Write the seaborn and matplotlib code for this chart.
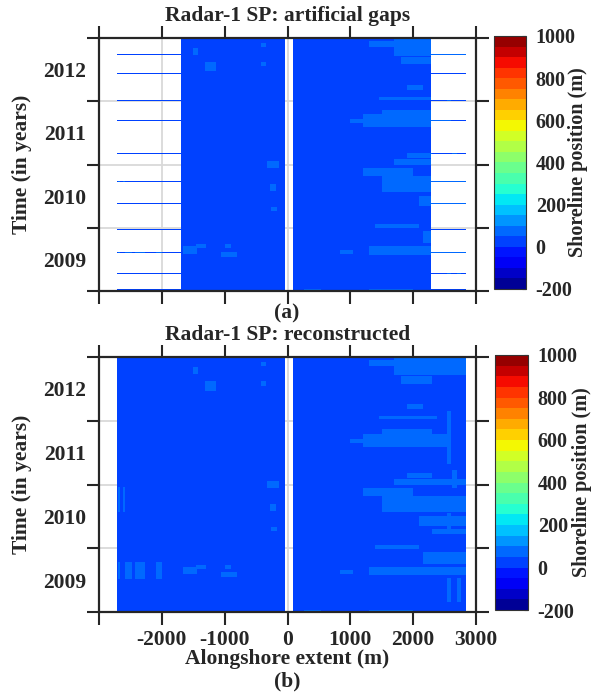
import numpy as np
import pandas as pd
import matplotlib
matplotlib.use("Agg")
import matplotlib.pyplot as plt
import seaborn as sns
from matplotlib.colors import ListedColormap

# ---------------- data ----------------
# alongshore grid (m) and time grid (decimal years)
x_start, x_stop, x_step = -3000, 3000, 20
t_top, t_bottom, n_rows = 2012.5, 2008.5, 250

# extent of the shoreline data
data_x_min, data_x_max = -2720, 2840
gap_x_min, gap_x_max = -40, 80          # blank column near 0 m
obs_x_min, obs_x_max = -1700, 2280      # region kept in the gapped series

base_value = 25      # dominant shoreline position (m)
patch_value = 75     # lighter patches (m)

# lighter patches: alongshore start/end (m), time start/end (years)
patch_x0 = [1700, 1300, 1800, 1900, 1470, 1200, 1500, 2540, 1700, 1900, 2620,
            1500, 1200, 2100, 2300, 2540, 2160, 1300, 840, 2540, 2700, 260, 1300,
            -1660, -1450, -1050, -1000, -1310, -1500, -420, -420, -310, -280, -260,
            -2700, -2620, -2700, -2570, -2410, -2090, 1000, 1400]
patch_x1 = [2840, 1700, 2300, 2160, 2380, 2540, 2300, 2600, 2840, 2300, 2700,
            2840, 2000, 2840, 2840, 2600, 2840, 2840, 1040, 2600, 2760, 530, 2000,
            -1450, -1310, -800, -900, -1150, -1420, -340, -340, -150, -180, -160,
            -2660, -2580, -2660, -2490, -2270, -2010, 1300, 2100]
patch_t0 = [2012.22, 2012.35, 2012.08, 2011.68, 2011.52, 2011.10, 2011.30, 2010.82, 2010.50, 2010.60, 2010.45,
            2010.07, 2010.33, 2009.85, 2009.72, 2009.75, 2009.25, 2009.08, 2009.10, 2008.66, 2008.66, 2008.50, 2008.50,
            2009.10, 2009.18, 2009.05, 2009.18, 2011.97, 2012.23, 2012.35, 2012.05, 2010.46, 2010.08, 2009.77,
            2010.07, 2010.07, 2009.02, 2009.02, 2009.02, 2009.02, 2011.16, 2009.50]
patch_t1 = [2012.50, 2012.45, 2012.20, 2011.76, 2011.57, 2011.30, 2011.37, 2011.65, 2010.58, 2010.68, 2010.72,
            2010.33, 2010.45, 2010.00, 2009.80, 2010.05, 2009.44, 2009.20, 2009.16, 2009.02, 2009.02, 2008.53, 2008.53,
            2009.20, 2009.24, 2009.12, 2009.24, 2012.12, 2012.34, 2012.42, 2012.12, 2010.55, 2010.20, 2009.83,
            2010.46, 2010.46, 2009.28, 2009.28, 2009.28, 2009.28, 2011.22, 2009.55]

# times at which the full alongshore extent was kept in the gapped series
hatch_years = [2012.231, 2011.931, 2011.520, 2011.199, 2010.666, 2010.239,
               2009.887, 2009.469, 2009.112, 2008.773, 2008.527]

x_tick_values = [-3000, -2000, -1000, 0, 1000, 2000, 3000]
x_tick_labels = ['', '-2000', '-1000', '0', '1000', '2000', '3000']
year_bounds = [2012.5, 2011.5, 2010.5, 2009.5, 2008.5]
year_labels = [2012, 2011, 2010, 2009]
cbar_ticks = [-200, 0, 200, 400, 600, 800, 1000]
c_min, c_max, c_step = -200, 1000, 50

# ---------------- build the fields ----------------
x_left = np.arange(x_start, x_stop, x_step)
x_mid = x_left + x_step / 2
dt = (t_top - t_bottom) / n_rows
t_mid = t_top - (np.arange(n_rows) + 0.5) * dt

in_extent = (x_mid > data_x_min) & (x_mid < data_x_max) & ~((x_mid > gap_x_min) & (x_mid < gap_x_max))
recon = np.full((n_rows, x_mid.size), np.nan)
recon[:, in_extent] = base_value
for x0, x1, t0, t1 in zip(patch_x0, patch_x1, patch_t0, patch_t1):
    rows = (t_mid >= t0) & (t_mid <= t1)
    cols = (x_mid >= x0) & (x_mid <= x1) & in_extent
    recon[np.ix_(rows, cols)] = patch_value

keep = np.zeros_like(recon, dtype=bool)
keep[:, (x_mid > obs_x_min) & (x_mid < obs_x_max)] = True
for yr in hatch_years:
    keep[int(np.argmin(np.abs(t_mid - yr))), :] = True
gapped = np.where(keep, recon, np.nan)

df_gap = pd.DataFrame(gapped, index=np.round(t_mid, 3), columns=x_mid)
df_rec = pd.DataFrame(recon, index=np.round(t_mid, 3), columns=x_mid)

levels = np.arange(c_min, c_max + 1, c_step)
mids = (levels[:-1] + levels[1:]) / 2
cmap = ListedColormap(plt.get_cmap('jet')((mids - c_min) / (c_max - c_min)))

# ---------------- figure ----------------
sns.set_style("ticks")
plt.rcParams['font.family'] = ['Liberation Serif', 'DejaVu Serif']
plt.rcParams['font.weight'] = 'bold'
plt.rcParams['axes.labelweight'] = 'bold'
plt.rcParams['axes.titleweight'] = 'bold'

W, H = 592, 697
fig = plt.figure(figsize=(W / 100, H / 100), dpi=100)

def fx(px):
    return px / W

def fy(py):
    return 1 - py / H

FS = 15.5
CFS = 14.5
dark = '#262626'

panels = [
    (df_gap, 'Radar-1 SP: artificial gaps', 38, 291, 494, 526, False),
    (df_rec, 'Radar-1 SP: reconstructed', 357, 612, 495, 528, True),
]

for df, title, top, bot, cl, cr, show_x in panels:
    ax = fig.add_axes([fx(99), fy(bot), fx(476) - fx(99), (bot - top) / H])
    cax = fig.add_axes([fx(cl), fy(bot - 2), fx(cr) - fx(cl), (bot - top) / H])
    sns.heatmap(df, ax=ax, cmap=cmap, vmin=c_min, vmax=c_max, cbar_ax=cax,
                xticklabels=False, yticklabels=False)
    ax.set_facecolor('white')
    ax.set_axisbelow(True)
    for s in ax.spines.values():
        s.set_visible(True)
        s.set_linewidth(1.6)
        s.set_color(dark)

    ncol = df.shape[1]
    xt = [(v - x_start) / x_step for v in x_tick_values]
    ax.set_xticks(xt)
    ax.set_xticklabels(x_tick_labels if show_x else [''] * len(xt))
    ax.set_yticks([(t_top - y) / dt for y in year_bounds])
    ax.set_yticklabels([''] * len(year_bounds))
    ax.set_yticks([(t_top - y) / dt for y in year_labels], minor=True)
    ax.set_yticklabels([str(y) for y in year_labels], minor=True)
    ax.tick_params(which='major', direction='out', length=9, width=1.5, color=dark,
                   top=True, right=True, bottom=True, left=True, labelsize=FS, pad=4)
    ax.tick_params(axis='y', which='minor', length=0, labelsize=FS, pad=9.5)
    ax.tick_params(axis='x', which='minor', length=0)
    ax.grid(True, which='major', color='#d9d9d9', lw=1.3)
    ax.set_xlim(0, ncol)
    ax.set_ylim(n_rows, 0)

    ax.set_title(title, fontsize=FS, pad=12)
    ax.set_ylabel('Time (in years)', fontsize=FS)
    ax.yaxis.set_label_coords(-0.178, 0.5)
    if show_x:
        ax.set_xlabel('Alongshore extent (m)', fontsize=FS)
        ax.xaxis.set_label_coords(0.5, -0.145)
    else:
        ax.set_xlabel('')

    cb = ax.collections[0].colorbar
    cb.set_ticks(cbar_ticks)
    cb.set_ticklabels([str(v) for v in cbar_ticks])
    cb.outline.set_linewidth(0.8)
    cb.outline.set_edgecolor('#333333')
    cax.tick_params(direction='in', length=3, width=0.8, labelsize=CFS, pad=7, color='#333333')
    cb.set_label('Shoreline position (m)', fontsize=CFS)
    cax.yaxis.set_label_coords(2.32, 0.5)

fig.text(fx(287), fy(313), '(a)', ha='center', va='center', fontsize=FS)
fig.text(fx(287), fy(681), '(b)', ha='center', va='center', fontsize=FS)

fig.savefig('out.png', dpi=100)
